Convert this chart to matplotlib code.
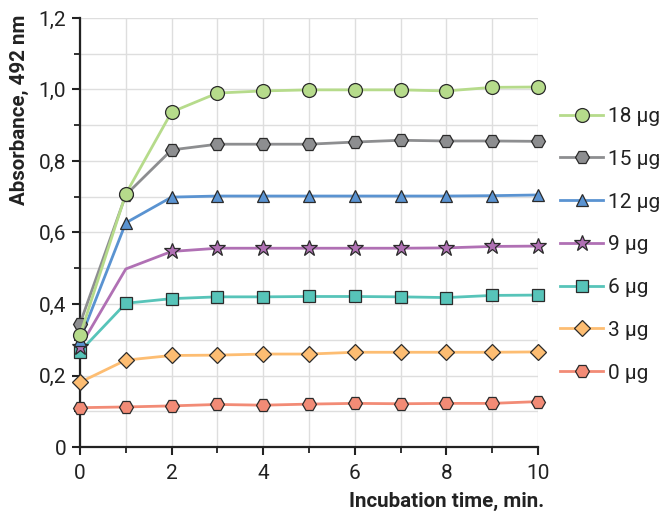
import matplotlib.pyplot as plt
from matplotlib.ticker import MultipleLocator, FuncFormatter

plt.rcParams['font.family'] = ['Roboto', 'DejaVu Sans']

# incubation time, min.
time = [0, 1, 2, 3, 4, 5, 6, 7, 8, 9, 10]

# absorbance at 492 nm
abs_0 = [0.110, 0.112, 0.115, 0.119, 0.117, 0.120, 0.122, 0.121, 0.122, 0.122, 0.127]
abs_3 = [0.181, 0.243, 0.256, 0.257, 0.260, 0.260, 0.265, 0.265, 0.265, 0.265, 0.266]
abs_6 = [0.267, 0.402, 0.415, 0.420, 0.420, 0.421, 0.421, 0.420, 0.418, 0.424, 0.425]
abs_9 = [0.280, 0.498, 0.547, 0.556, 0.556, 0.556, 0.556, 0.556, 0.557, 0.561, 0.562]
abs_12 = [0.300, 0.627, 0.699, 0.702, 0.702, 0.702, 0.702, 0.702, 0.702, 0.703, 0.705]
abs_15 = [0.345, 0.705, 0.831, 0.847, 0.847, 0.847, 0.853, 0.858, 0.856, 0.856, 0.855]
abs_18 = [0.312, 0.708, 0.937, 0.990, 0.996, 0.999, 0.999, 0.999, 0.996, 1.006, 1.007]

labels = ['0 µg', '3 µg', '6 µg', '9 µg', '12 µg', '15 µg', '18 µg']
series = [abs_0, abs_3, abs_6, abs_9, abs_12, abs_15, abs_18]
colors = ['#f28b76', '#fdbd72', '#57c4b9', '#b070b4', '#5a93d1', '#8d8e90', '#b6db8b']
markers = ['H', 'D', 's', '*', '^', 'H', 'o']
msizes = [10, 8.5, 8, 12, 9, 10, 10]

fig = plt.figure(figsize=(6.6, 5.11), dpi=100)
ax = fig.add_axes([80 / 660, 64 / 511, 458 / 660, 429 / 511])

for y, lab, c, m, ms in zip(series, labels, colors, markers, msizes):
    # 9 ug has no marker at t=1 in the original
    every = [i for i in range(len(time)) if not (lab == '9 µg' and i == 1)]
    ax.plot(time, y, color=c, lw=2, marker=m, ms=ms, mfc=c, mec='#2b2b2b',
            mew=0.9, markevery=every, label=lab, clip_on=False, zorder=3)

ax.set_xlim(0, 10)
ax.set_ylim(0, 1.2)
ax.xaxis.set_major_locator(MultipleLocator(2))
ax.xaxis.set_minor_locator(MultipleLocator(1))
ax.yaxis.set_major_locator(MultipleLocator(0.2))
ax.yaxis.set_minor_locator(MultipleLocator(0.1))
ax.yaxis.set_major_formatter(FuncFormatter(
    lambda v, p: '0' if abs(v) < 1e-9 else f'{v:.1f}'.replace('.', ',')))

ax.grid(True, which='both', color='#dedede', lw=1, zorder=0)
ax.set_axisbelow(True)
for s in ['top', 'right']:
    ax.spines[s].set_visible(False)
for s in ['left', 'bottom']:
    ax.spines[s].set_color('#222222')
    ax.spines[s].set_linewidth(1.6)

ax.tick_params(which='major', length=6, width=1.5, color='#222222',
               labelsize=15, labelcolor='#222222', pad=4)
ax.tick_params(which='minor', length=4, width=1.3, color='#222222')
ax.tick_params(axis='x', which='major', pad=6)

fig.text(19 / 660, 1 - 110 / 511, 'Absorbance, 492 nm', rotation=90,
         ha='center', va='center', fontsize=14.8, fontweight='bold', color='#222222')
fig.text(544 / 660, 1 - 501 / 511, 'Incubation time, min.', ha='right',
         va='center', fontsize=14.8, fontweight='bold', color='#222222')

h, l = ax.get_legend_handles_labels()
fig.legend(h[::-1], l[::-1], loc='upper left',
           bbox_to_anchor=(560 / 660, 1 - 107 / 511), frameon=False,
           fontsize=15, handlelength=2.07, handletextpad=0.25, labelspacing=1.14,
           borderpad=0, borderaxespad=0, labelcolor='#222222')

fig.savefig('out.png', dpi=100)
